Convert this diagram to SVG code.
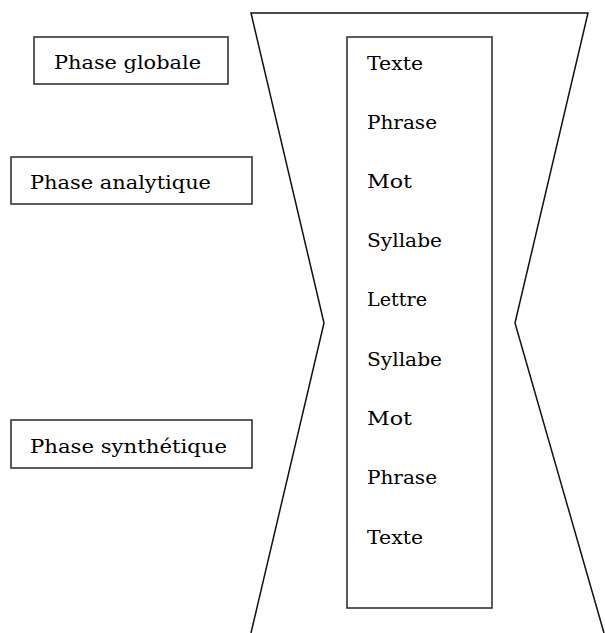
<svg xmlns="http://www.w3.org/2000/svg" width="605" height="633" viewBox="0 0 605 633">
  <style>
    .box { fill: #fff; stroke: #333; stroke-width: 1.6; }
    .edge { fill: none; stroke: #111; stroke-width: 1.5; }
    .lbl { font-family: "DejaVu Serif", "Liberation Serif", serif; font-size: 18px; fill: #000; }
  </style>
  <rect width="605" height="633" fill="#fff"/>

  <!-- hourglass outline -->
  <g id="connectors">
    <polyline class="edge" points="251,633 324,323 251,13 588,13 515,323 604,633"/>
  </g>

  <!-- phase labels -->
  <g id="phase-globale">
    <rect class="box" x="34" y="37" width="194" height="47"/>
    <text class="lbl" x="54" y="69" textLength="147" lengthAdjust="spacingAndGlyphs">Phase globale</text>
  </g>
  <g id="phase-analytique">
    <rect class="box" x="11" y="157" width="241" height="47"/>
    <text class="lbl" x="30" y="189" textLength="181" lengthAdjust="spacingAndGlyphs">Phase analytique</text>
  </g>
  <g id="phase-synthetique">
    <rect class="box" x="11" y="420" width="241" height="48"/>
    <text class="lbl" x="30" y="453" textLength="197" lengthAdjust="spacingAndGlyphs">Phase synthétique</text>
  </g>

  <!-- central column of units -->
  <g id="unites">
    <rect class="box" x="347" y="37" width="145" height="571"/>
    <text class="lbl" x="367" y="70" textLength="56" lengthAdjust="spacingAndGlyphs">Texte</text>
    <text class="lbl" x="367" y="129" textLength="70" lengthAdjust="spacingAndGlyphs">Phrase</text>
    <text class="lbl" x="367" y="188" textLength="45" lengthAdjust="spacingAndGlyphs">Mot</text>
    <text class="lbl" x="367" y="247" textLength="75" lengthAdjust="spacingAndGlyphs">Syllabe</text>
    <text class="lbl" x="367" y="306" textLength="60" lengthAdjust="spacingAndGlyphs">Lettre</text>
    <text class="lbl" x="367" y="366" textLength="75" lengthAdjust="spacingAndGlyphs">Syllabe</text>
    <text class="lbl" x="367" y="425" textLength="45" lengthAdjust="spacingAndGlyphs">Mot</text>
    <text class="lbl" x="367" y="484" textLength="70" lengthAdjust="spacingAndGlyphs">Phrase</text>
    <text class="lbl" x="367" y="544" textLength="56" lengthAdjust="spacingAndGlyphs">Texte</text>
  </g>
</svg>
